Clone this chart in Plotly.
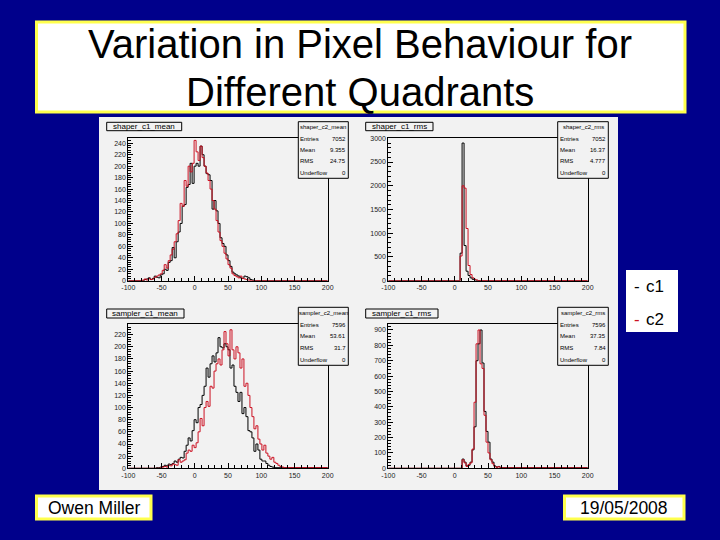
import plotly.graph_objects as go

BG = "#00008b"
YELLOW = "#ffff4d"
PANEL = "#f2f2f2"
RED = "#cc1122"

# bin left edges and contents
sm_x_c1 = [-100,-76,-73,-70,-67,-64,-61,-58,-55,-52,-49,-46,-43,-40,-37,-34,-31,-28,-25,-22,-19,-16,-13,-10,-7,-4,-1,2,5,8,11,14,17,20,23,26,29,32,35,38,41,44,47,50,53,56,59,62,65,68,71,74,77,80,83,86,89,200]
sm_y_c1 = [0,2,3,5,2,4,8,6,5,10,12,20,18,32,35,58,40,68,85,100,130,133,163,168,205,170,200,205,200,235,220,200,187,185,175,125,140,122,100,75,65,60,45,35,25,15,12,10,8,5,4,8,7,5,2,1,0,0]
sm_x_c2 = [-100,-79,-76,-73,-70,-67,-64,-61,-58,-55,-52,-49,-46,-43,-40,-37,-34,-31,-28,-25,-22,-19,-16,-13,-10,-7,-4,-1,2,5,8,11,14,17,20,23,26,29,32,35,38,41,44,47,50,53,56,59,62,65,68,71,74,77,80,83,200]
sm_y_c2 = [0,1,3,1,4,2,3,6,8,10,12,18,28,22,35,45,55,68,82,105,135,130,175,165,200,190,205,245,225,210,235,215,200,188,175,160,140,125,105,85,70,60,48,38,28,22,12,9,7,5,8,4,3,2,1,0,0]

sr_x_c1 = [-100,8,11,14,17,20,23,26,29,32,35,38,200]
sr_y_c1 = [0,580,2900,740,200,110,60,30,15,8,3,0,0]
sr_x_c2 = [-100,8,11,14,17,20,23,26,29,32,35,200]
sr_y_c2 = [0,520,2000,1950,1100,320,130,60,30,12,3,0]

am_x_c1 = [-100,-58,-55,-52,-49,-46,-43,-40,-37,-34,-31,-28,-25,-22,-19,-16,-13,-10,-7,-4,-1,2,5,8,11,14,17,20,23,26,29,32,35,38,41,44,47,50,53,56,59,62,65,68,71,74,77,80,83,86,89,92,95,98,101,104,107,110,113,116,119,200]
am_y_c1 = [0,1,1,2,3,5,4,7,6,8,12,10,15,18,17,28,38,50,45,62,80,75,100,105,120,135,165,150,172,185,175,190,215,200,198,205,200,195,165,170,135,125,110,125,90,100,85,62,60,50,28,40,30,15,12,12,8,5,3,2,1,0]
am_x_c2 = [-100,-52,-49,-46,-43,-40,-37,-34,-31,-28,-25,-22,-19,-16,-13,-10,-7,-4,-1,2,5,8,11,14,17,20,23,26,29,32,35,38,41,44,47,50,53,56,59,62,65,68,71,74,77,80,83,86,89,92,95,98,101,104,107,110,113,116,119,122,125,128,131,134,137,200]
am_y_c2 = [0,1,2,3,2,5,4,7,6,5,14,10,12,14,25,30,28,38,34,42,60,82,70,100,110,102,135,132,160,172,180,170,195,225,205,185,228,195,180,200,190,165,180,135,140,120,100,85,65,70,48,40,30,38,25,20,15,18,10,8,5,3,2,1,1,0]

ar_x_c1 = [-100,11,14,17,20,23,26,29,32,35,38,41,44,47,50,53,56,59,62,65,68,71,200]
ar_y_c1 = [0,60,40,15,20,40,120,270,700,810,900,685,370,240,170,60,40,15,8,12,5,4,0]
ar_x_c2 = [-100,11,14,17,20,23,26,29,32,35,38,41,44,47,50,53,56,59,62,65,68,71,200]
ar_y_c2 = [0,55,35,12,25,35,125,430,810,900,680,650,345,170,100,55,30,12,6,10,4,3,0]

titles = ["shaper_c1_mean", "shaper_c1_rms", "sampler_c1_mean", "sampler_c1_rms"]
stat_names = ["Entries", "Mean", "RMS", "Underflow"]
stat_heads = ["shaper_c2_mean", "shaper_c2_rms", "sampler_c2_mean", "sampler_c2_rms"]
stat_vals = [["7052", "9.355", "24.75", "0"], ["7052", "16.37", "4.777", "0"],
             ["7596", "53.61", "31.7", "0"], ["7596", "37.35", "7.84", "0"]]
x_ticks = [-100, -50, 0, 50, 100, 150, 200]
x_labels = ["-100", "-50", "0", "50", "100", "150", "200"]
y_tops = [248.7, 3000, 237, 937]
y_majors = [20, 500, 20, 100]
y_minors = [4, 100, 4, 20]

W, H = 720, 540
def X(px): return px / W
def Y(px): return 1 - px / H

boxes = [(128.3, 327.7, 138.3, 280.7), (388.3, 587.7, 138.3, 280.7),
         (128.3, 327.7, 324.3, 468.3), (388.3, 587.7, 324.3, 468.3)]
title_boxes = [(106.7, 181.7, 122.3, 130.7), (365.7, 433, 122.3, 130.7),
               (106.7, 184, 309, 318), (365.7, 438, 309, 318)]
stat_boxes = [(298.3, 348.3, 121.7, 178.3), (557.7, 608.3, 121.7, 178.3),
              (298.3, 348.3, 307.3, 365.3), (557.7, 608.3, 307.3, 365.3)]

fig = go.Figure()
series = [(sm_x_c1, sm_y_c1, sm_x_c2, sm_y_c2), (sr_x_c1, sr_y_c1, sr_x_c2, sr_y_c2),
          (am_x_c1, am_y_c1, am_x_c2, am_y_c2), (ar_x_c1, ar_y_c1, ar_x_c2, ar_y_c2)]
layout_axes = {}
for i, (xa, ya, xb, yb) in enumerate(series):
    n = "" if i == 0 else str(i + 1)
    fig.add_trace(go.Scatter(x=xa, y=ya, mode="lines", line=dict(color="black", width=1, shape="hv"),
                             xaxis="x" + n, yaxis="y" + n, showlegend=False))
    fig.add_trace(go.Scatter(x=xb, y=yb, mode="lines", line=dict(color=RED, width=1, shape="hv"),
                             xaxis="x" + n, yaxis="y" + n, showlegend=False))
    l, r, t, b = boxes[i]
    layout_axes["xaxis" + n] = dict(domain=[X(l), X(r)], range=[-100, 200], anchor="y" + n,
        showgrid=False, zeroline=False, showline=True, linecolor="black", linewidth=1, mirror=True,
        ticks="inside", ticklen=5, tickcolor="black", tickmode="array", tickvals=x_ticks, ticktext=x_labels,
        minor=dict(ticks="inside", ticklen=3, dtick=10, tick0=-100, tickcolor="black"),
        tickfont=dict(family="Liberation Sans", size=7, color="#222222"))
    layout_axes["yaxis" + n] = dict(domain=[Y(b), Y(t)], range=[0, y_tops[i]], anchor="x" + n,
        showgrid=False, zeroline=False, showline=True, linecolor="black", linewidth=1, mirror=True,
        ticks="inside", ticklen=5, tickcolor="black", dtick=y_majors[i],
        minor=dict(ticks="inside", ticklen=3, dtick=y_minors[i], tickcolor="black"),
        tickfont=dict(family="Liberation Sans", size=7, color="#222222"))

shapes = []
ann = []
def rect(l, r, t, b, fill, line=None, w=1):
    shapes.append(dict(type="rect", xref="paper", yref="paper", x0=X(l), x1=X(r), y0=Y(b), y1=Y(t),
                       fillcolor=fill, line=dict(color=line or fill, width=w if line else 0), layer="below"))
def rect_top(l, r, t, b, fill, line="black", w=1):
    shapes.append(dict(type="rect", xref="paper", yref="paper", x0=X(l), x1=X(r), y0=Y(b), y1=Y(t),
                       fillcolor=fill, line=dict(color=line, width=w), layer="above"))
def text(px, py, s, size, color="black", anchor="center"):
    ann.append(dict(xref="paper", yref="paper", x=X(px), y=Y(py), text=s, showarrow=False, xanchor=anchor,
                    yanchor="middle", font=dict(family="Liberation Sans", size=size, color=color),
                    borderpad=0, borderwidth=0))

rect(99, 618, 117, 490, PANEL)
rect(36.5, 685, 22, 112, "white", YELLOW, 3)
rect(36.5, 151, 496, 519, "white", YELLOW, 3)
rect(564.5, 684, 496, 519, "white", YELLOW, 3)
rect(626, 678, 270, 332, "white")

text(360, 44, "Variation in Pixel Behaviour for", 40)
text(360, 92, "Different Quadrants", 40)
text(94, 508, "Owen Miller", 17.5)
text(624, 508, "19/05/2008", 17.5)
text(634, 286, "-", 17, "black", "left")
text(646, 286, "c1", 17, "black", "left")
text(634, 319, "-", 17, RED, "left")
text(646, 319, "c2", 17, "black", "left")

for i in range(4):
    l, r, t, b = title_boxes[i]
    rect_top(l, r, t, b, PANEL)
    text((l + r) / 2, (t + b) / 2, titles[i], 8)
    l, r, t, b = stat_boxes[i]
    rect_top(l, r, t, b, PANEL)
    row = (b - t) / 5
    text((l + r) / 2, t + row / 2, stat_heads[i], 6)
    for j in range(4):
        yy = t + row * (j + 1.5)
        text(l + 2, yy, stat_names[j], 6, "black", "left")
        text(r - 2, yy, stat_vals[i][j], 6, "black", "right")

fig.update_layout(width=W, height=H, margin=dict(l=0, r=0, t=0, b=0, autoexpand=False), paper_bgcolor=BG, plot_bgcolor=PANEL,
                  shapes=shapes, annotations=ann, showlegend=False, **layout_axes)
fig.write_html("out.html", config={"displayModeBar": False},
               post_script="document.body.style.margin='0';document.body.style.background='#00008b';window.dispatchEvent(new Event('resize'));")
